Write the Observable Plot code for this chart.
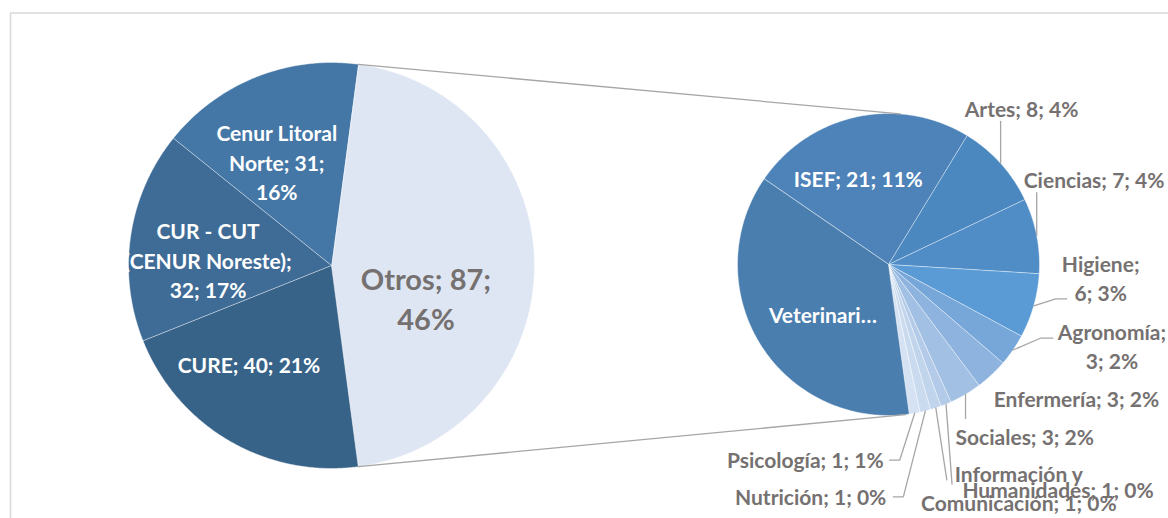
<!DOCTYPE html>
<html><head><meta charset="utf-8">
<script src="https://cdn.jsdelivr.net/npm/d3@7"></script>
<script src="https://cdn.jsdelivr.net/npm/@observablehq/plot@0.6"></script>
<style>body{margin:0;background:#fff;}</style>
</head><body><div id="chart"></div>
<script>
// ---------- data ----------
const mainCategories = ["Otros", "CURE", "CUR - CUT (CENUR Noreste)", "Cenur Litoral Norte"];
const mainValues = [87, 40, 32, 31];
const mainPercents = ["46%", "21%", "17%", "16%"];

const otrosCategories = ["ISEF", "Artes", "Ciencias", "Higiene", "Agronomía", "Enfermería", "Sociales",
  "Humanidades", "Información y Comunicación", "Nutrición", "Psicología", "Veterinaria"];
const otrosValues = [21, 8, 7, 6, 3, 3, 3, 1, 1, 1, 1, 32];
const otrosPercents = ["11%", "4%", "4%", "3%", "2%", "2%", "2%", "0%", "0%", "0%", "1%", "17%"];

// ---------- styles ----------
const mainColors = ["#dfe6f3", "#386389", "#3f6c96", "#4477a6"];
const otrosColors = ["#4d83b8", "#4c88c0", "#508dc7", "#5a9bd5", "#77a7d9", "#8eb3de", "#a2c0e3",
  "#b3cbe8", "#c0d4ec", "#cbdbef", "#d5e2f3", "#4a7eaf"];
const grey = "#767171";
const font = "Lato, 'Open Sans', sans-serif";

// ---------- layout ----------
const W = 1168, H = 518, ppu = 203;
const mainCenter = [0, 0], mainRadius = 1;
const subCenter = [557 / ppu, 1 / ppu], subRadius = 151 / ppu;
const mainStart = 90 - 0.5 * 360 * mainValues[0] / d3.sum(mainValues);
const subStart = 304.5;

const mainLabelLayout = [
  {k: 0.49, dx: -5, dy: 32, fill: grey, size: 29, lh: 1.38, breaks: ["87;"]},
  {k: 0.63, dx: -18, dy: -12, fill: "#fff", size: 21, lh: 1.4, breaks: []},
  {k: 0.61, dx: -1, dy: 12, fill: "#fff", size: 21, lh: 1.4, breaks: ["CUT", "Noreste);"]},
  {k: 0.58, dx: -11, dy: 5, fill: "#fff", size: 21, lh: 1.4, breaks: ["Litoral", "31;"]}
];
const otrosLabelLayout = [
  {k: 92 / 151, dx: -11, dy: 3, anchor: "middle", fill: "#fff"},
  {k: 1, dx: 21, dy: -56, anchor: "middle", leader: [[0, 0], [0, -42]]},
  {k: 1, dx: -13, dy: -57, anchor: "start", leader: [[0, 0], [0, -43]]},
  {k: 1, dx: 67, dy: -29, anchor: "middle", breaks: ["Higiene;"], leader: [[0, 0], [22, -7], [33, -7]]},
  {k: 1, dx: 99, dy: -5, anchor: "middle", breaks: ["Agronomía;"], leader: [[0, 0], [28, -12], [40, -12]]},
  {k: 1, dx: 2, dy: 23, anchor: "start"},
  {k: 1, dx: -10, dy: 41, anchor: "start", leader: [[0, 0], [0, 24]]},
  {k: 1, dx: 112, dy: 85, anchor: "middle", leader: [[0, 0], [6, 80]]},
  {k: 1, dx: 83, dy: 79, anchor: "middle", breaks: ["Información y"], leader: [[0, 0], [11, 72]]},
  {k: 1, dx: -39, dy: 85, anchor: "end", leader: [[0, 0], [-22, 86], [-32, 86]]},
  {k: 1, dx: -31, dy: 46, anchor: "end", leader: [[0, 0], [-15, 47], [-25, 47]]},
  {k: 83 / 151, dx: 5, dy: 6, anchor: "middle", fill: "#fff", truncate: 10}
];

// ---------- geometry helpers ----------
function polar(c, r, deg) {
  const t = deg * Math.PI / 180;
  return [c[0] + r * Math.sin(t), c[1] + r * Math.cos(t)];
}
function slices(values, start) {
  const total = d3.sum(values);
  let a = start;
  return values.map((v) => {
    const a0 = a, a1 = a + v / total * 360;
    a = a1;
    return {a0, a1, mid: (a0 + a1) / 2};
  });
}
function wedge(c, r, s) {
  const n = Math.max(2, Math.ceil((s.a1 - s.a0) / 0.5));
  const pts = [c];
  for (let i = 0; i <= n; i++) pts.push(polar(c, r, s.a0 + (s.a1 - s.a0) * i / n));
  return pts;
}
function label(cat, val, pct, lay) {
  let t = `${cat}; ${val}; ${pct}`;
  for (const b of (lay.breaks || [])) t = t.replace(b + " ", b + "\n");
  if (lay.truncate) t = t.slice(0, lay.truncate) + "…";
  return t;
}

const mainSlices = slices(mainValues, mainStart);
const subSlices = slices(otrosValues, subStart);

const marks = [];
marks.push(Plot.frame({stroke: "#d9d9d9", strokeWidth: 1.5, insetLeft: 10, insetTop: 12.5, insetRight: -20, insetBottom: -20}));

mainSlices.forEach((s, i) => {
  marks.push(Plot.line(wedge(mainCenter, mainRadius, s), {
    x: d => d[0], y: d => d[1], curve: "linear-closed",
    fill: mainColors[i], stroke: "#fff", strokeWidth: 0.8, strokeOpacity: 0.55
  }));
});
subSlices.forEach((s, i) => {
  marks.push(Plot.line(wedge(subCenter, subRadius, s), {
    x: d => d[0], y: d => d[1], curve: "linear-closed",
    fill: otrosColors[i], stroke: "#fff", strokeWidth: 0.8, strokeOpacity: 0.55
  }));
});

// connector lines between the "Otros" slice and the secondary pie
const conn = [
  [polar(mainCenter, mainRadius, mainSlices[0].a0), polar(subCenter, subRadius, 4.5)],
  [polar(mainCenter, mainRadius, mainSlices[0].a1), polar(subCenter, subRadius, 173.5)]
];
conn.forEach(seg => marks.push(Plot.line(seg, {x: d => d[0], y: d => d[1], stroke: "#a6a6a6", strokeWidth: 1.3})));

// leader lines
subSlices.forEach((s, i) => {
  const lay = otrosLabelLayout[i];
  if (!lay.leader) return;
  const e = polar(subCenter, subRadius, s.mid);
  const pts = lay.leader.map(([dx, dy]) => [e[0] + dx / ppu, e[1] - dy / ppu]);
  marks.push(Plot.line(pts, {x: d => d[0], y: d => d[1], stroke: "#a6a6a6", strokeWidth: 1.3}));
});

// labels
mainSlices.forEach((s, i) => {
  const lay = mainLabelLayout[i];
  const p = polar(mainCenter, mainRadius * lay.k, s.mid);
  marks.push(Plot.text([p], {
    x: d => d[0], y: d => d[1], dx: lay.dx, dy: lay.dy,
    text: () => label(mainCategories[i], mainValues[i], mainPercents[i], lay),
    fill: lay.fill, fontSize: lay.size, fontWeight: "bold", fontFamily: font,
    lineHeight: lay.lh, textAnchor: "middle"
  }));
});
subSlices.forEach((s, i) => {
  const lay = otrosLabelLayout[i];
  const p = polar(subCenter, subRadius * lay.k, s.mid);
  marks.push(Plot.text([p], {
    x: d => d[0], y: d => d[1], dx: lay.dx, dy: lay.dy,
    text: () => label(otrosCategories[i], otrosValues[i], otrosPercents[i], lay),
    fill: lay.fill || grey, fontSize: 21, fontWeight: "bold", fontFamily: font,
    lineHeight: 1.38, textAnchor: lay.anchor
  }));
});

const chart = Plot.plot({
  width: W, height: H, margin: 0,
  x: {axis: null, domain: [-331 / ppu, (W - 331) / ppu]},
  y: {axis: null, domain: [-(H - 265) / ppu, 265 / ppu]},
  style: {background: "#fff"},
  marks
});
document.getElementById("chart").appendChild(chart);
</script>
</body></html>
